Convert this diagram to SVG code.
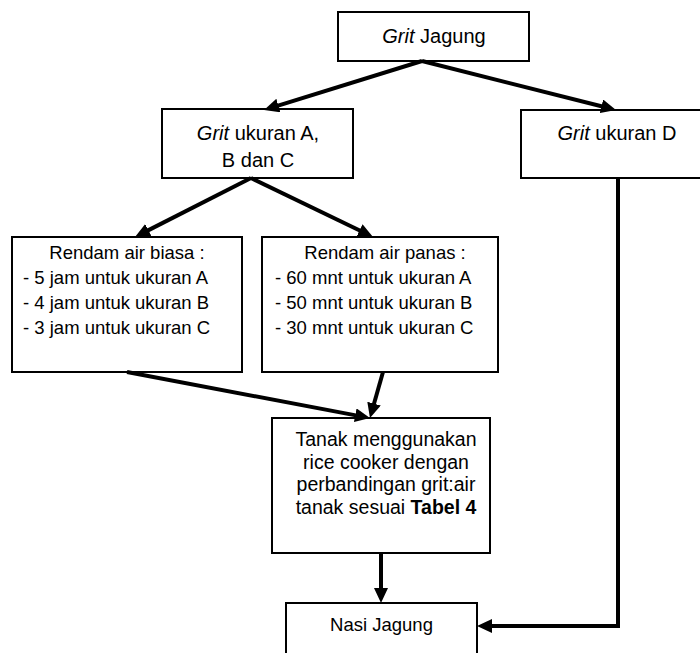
<svg xmlns="http://www.w3.org/2000/svg" width="700" height="653" viewBox="0 0 700 653">
<style>
.box{fill:#fff;stroke:#000;stroke-width:2}
.t{font-family:"Liberation Sans",Arial,sans-serif;fill:#000}
.c{text-anchor:middle}
.i{font-style:italic}
.b{font-weight:bold}
.con{fill:none;stroke:#000;stroke-width:4;marker-end:url(#ah)}
</style>
<defs>
<marker id="ah" markerUnits="userSpaceOnUse" markerWidth="16" markerHeight="15" refX="2" refY="7" orient="auto">
<path d="M0,0 L15,7 L0,14 z" fill="#000"/>
</marker>
</defs>
<rect width="700" height="653" fill="#fff"/>
<g id="n1">
<rect class="box" x="338" y="12" width="191" height="49"/>
<text class="t c" x="434" y="43" font-size="20"><tspan class="i">Grit</tspan> Jagung</text>
</g>
<g id="n2">
<rect class="box" x="162" y="109" width="191" height="69"/>
<text class="t c" x="258" y="140" font-size="20"><tspan class="i">Grit</tspan> ukuran A,</text>
<text class="t c" x="258" y="167" font-size="20">B dan C</text>
</g>
<g id="n3">
<rect class="box" x="521" y="110" width="192" height="68"/>
<text class="t c" x="617" y="140" font-size="20"><tspan class="i">Grit</tspan> ukuran D</text>
</g>
<g id="n4">
<rect class="box" x="12" y="237" width="230" height="135"/>
<text class="t c" x="127" y="259" font-size="18.5">Rendam air biasa :</text>
<text class="t" x="23" y="284" font-size="18.5">- 5 jam untuk ukuran A</text>
<text class="t" x="23" y="309" font-size="18.5">- 4 jam untuk ukuran B</text>
<text class="t" x="23" y="334" font-size="18.5">- 3 jam untuk ukuran C</text>
</g>
<g id="n5">
<rect class="box" x="262" y="237" width="236" height="135"/>
<text class="t c" x="385" y="259" font-size="18.5">Rendam air panas :</text>
<text class="t" x="275" y="284" font-size="18.5">- 60 mnt untuk ukuran A</text>
<text class="t" x="275" y="309" font-size="18.5">- 50 mnt untuk ukuran B</text>
<text class="t" x="275" y="334" font-size="18.5">- 30 mnt untuk ukuran C</text>
</g>
<g id="n6">
<rect class="box" x="272" y="418" width="218" height="135"/>
<text class="t c" x="386" y="446" font-size="19.5">Tanak menggunakan</text>
<text class="t c" x="386" y="469" font-size="19.5">rice cooker dengan</text>
<text class="t c" x="386" y="491" font-size="19.5">perbandingan grit:air</text>
<text class="t c" x="386" y="514" font-size="19.5">tanak sesuai <tspan class="b">Tabel 4</tspan></text>
</g>
<g id="n7">
<rect class="box" x="286" y="603" width="191" height="60"/>
<text class="t c" x="381.5" y="631" font-size="18.5">Nasi Jagung</text>
</g>
<g id="connectors">
<line class="con" x1="422" y1="61" x2="276.5" y2="106.1"/>
<line class="con" x1="422" y1="61" x2="603.4" y2="106.8"/>
<line class="con" x1="251" y1="178" x2="146.6" y2="231.1"/>
<line class="con" x1="251" y1="178" x2="361.3" y2="231.3"/>
<line class="con" x1="127" y1="372" x2="357.2" y2="415.6"/>
<line class="con" x1="383" y1="372" x2="373.5" y2="405.5"/>
<line class="con" x1="381" y1="553" x2="381" y2="590"/>
<polyline class="con" points="618,178 618,626 490,626"/>
</g>
</svg>
